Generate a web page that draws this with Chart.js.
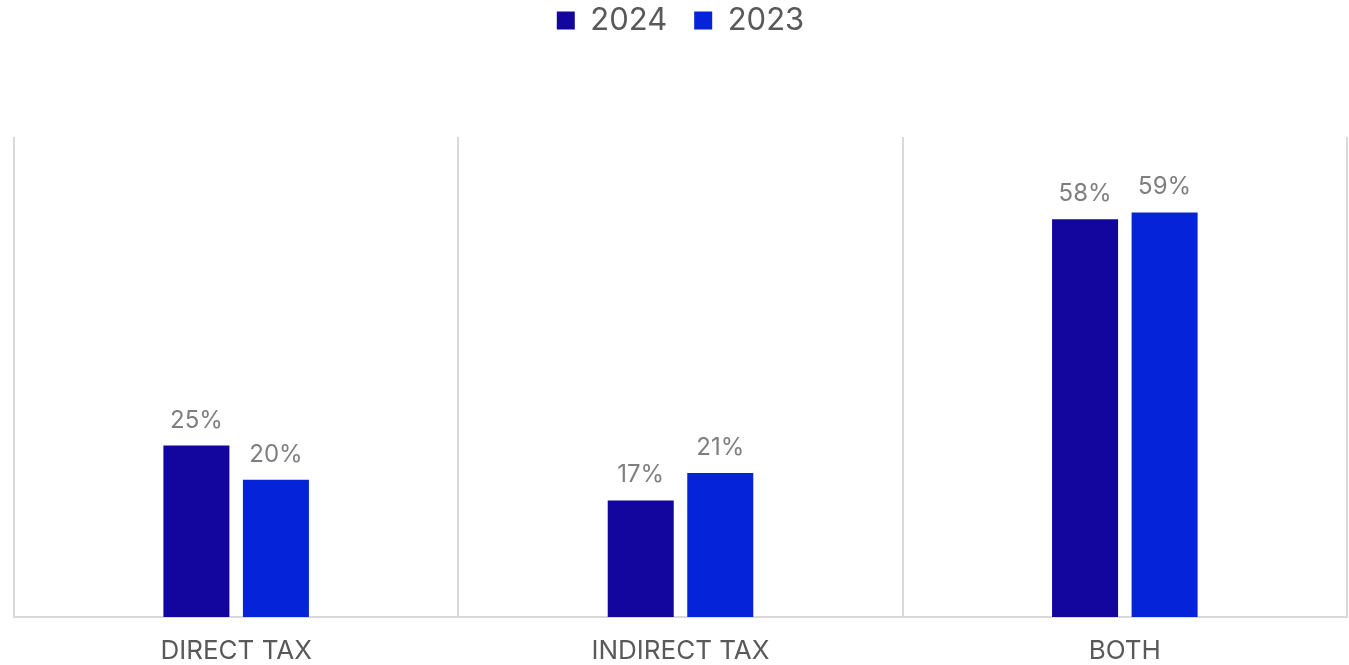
<!DOCTYPE html>
<html>
<head>
<meta charset="utf-8">
<script src="https://cdn.jsdelivr.net/npm/chart.js@4/dist/chart.umd.min.js"></script>
<style>
  html, body { margin: 0; padding: 0; background: #fff; }
  #wrap { width: 1349px; height: 665px; }
</style>
</head>
<body>
<div id="wrap"><canvas id="chart"></canvas></div>
<script>
const categories = ['DIRECT TAX', 'INDIRECT TAX', 'BOTH'];
const values2024 = [25, 17, 58];
const values2023 = [20, 21, 59];

const FONT = 'Inter, "Noto Sans", sans-serif';

// value labels above each bar
const barLabels = {
    id: 'barLabels',
    afterDatasetsDraw(chart) {
        const ctx = chart.ctx;
        ctx.save();
        ctx.font = '24px ' + FONT;
        ctx.fillStyle = '#7f7f7f';
        ctx.textAlign = 'center';
        ctx.textBaseline = 'alphabetic';
        chart.data.datasets.forEach((ds, i) => {
            chart.getDatasetMeta(i).data.forEach((bar, j) => {
                ctx.fillText(ds.data[j] + '%', bar.x, bar.y - 18);
            });
        });
        ctx.restore();
    }
};

// extra room under the legend
const legendGap = {
    id: 'legendGap',
    beforeInit(chart) {
        const fit = chart.legend.fit;
        chart.legend.fit = function () {
            fit.bind(chart.legend)();
            this.height += 91;
        };
    }
};

const data = {
    labels: categories,
    datasets: [
        { label: '2024', data: values2024, backgroundColor: '#12069e' },
        { label: '2023', data: values2023, backgroundColor: '#0524d9' }
    ]
};

const options = {
    responsive: true,
    maintainAspectRatio: false,
    animation: false,
    layout: { padding: { left: 14, right: 2, top: -22, bottom: 0 } },
    datasets: {
        bar: { categoryPercentage: 0.358, barPercentage: 0.83 }
    },
    plugins: {
        legend: {
            position: 'top',
            labels: {
                boxWidth: 18,
                boxHeight: 18,
                padding: 27,
                color: '#595959',
                font: { family: FONT, size: 31 }
            }
        },
        tooltip: { enabled: false }
    },
    scales: {
        x: {
            grid: { color: '#d9d9d9', lineWidth: 2, drawTicks: false, offset: true },
            border: { color: '#d9d9d9', width: 2 },
            ticks: { color: '#595959', padding: 19, font: { family: FONT, size: 26 } },
            afterFit(scale) { scale.height = 48; }
        },
        y: {
            display: false,
            min: 0,
            max: 70
        }
    }
};

new Chart(document.getElementById('chart'), {
    type: 'bar',
    data: data,
    options: options,
    plugins: [barLabels, legendGap]
});
</script>
</body>
</html>
